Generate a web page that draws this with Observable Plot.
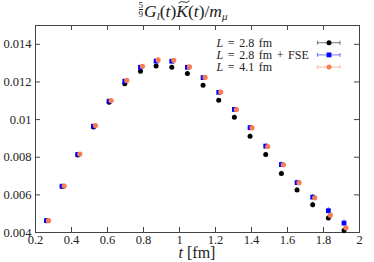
<!DOCTYPE html>
<html>
<head>
<meta charset="utf-8">
<script src="https://cdn.jsdelivr.net/npm/d3@7"></script>
<script src="https://cdn.jsdelivr.net/npm/@observablehq/plot@0.6"></script>
<style>
  body { margin: 0; background: white; width: 374px; height: 262px; overflow: hidden; }
  #title { height: 20px; width: 374px; text-align: center; font-family: "Liberation Serif", serif; font-size: 17.5px; color: #222; line-height: 23px; position: relative; left: -4px; top: 0px; white-space: nowrap; }
  .frac { display: inline-block; vertical-align: middle; font-size: 9px; line-height: 8.5px; text-align: center; margin-right: 1px; position: relative; top: -3px; }
  .frac span { display: block; }
  .frac span:first-child { border-bottom: 0.6px solid #222; }
  #title sub { font-size: 11px; vertical-align: -3px; line-height: 0; }
  .wt { position: relative; display: inline-block; }
  .wt::before { content: ""; position: absolute; left: 2px; top: 0px; width: 12px; height: 4px;
    background: no-repeat center/100% 100% url("data:image/svg+xml;utf8,<svg xmlns='http://www.w3.org/2000/svg' viewBox='0 0 12 4'><path d='M0.5 3.2 Q3 0.5 6 2 T11.5 0.8' fill='none' stroke='%23222' stroke-width='0.9'/></svg>"); }
  #chart svg { display: block; }
</style>
</head>
<body>
<div id="title"><span class="frac"><span>5</span><span>9</span></span><i>G</i><sub><i>l</i></sub>(<i>t</i>)<span class="wt"><i>K</i></span>(<i>t</i>)/<i>m</i><sub><i>μ</i></sub></div>
<div id="chart"></div>
<script>
// ---- data ----
const t = [0.261, 0.348, 0.435, 0.522, 0.609, 0.696, 0.783, 0.870, 0.957, 1.044,
           1.131, 1.218, 1.305, 1.392, 1.479, 1.566, 1.653, 1.740, 1.827, 1.914];

const seriesNames = ["L = 2.8 fm", "L = 2.8 fm + FSE", "L = 4.1 fm"];
const seriesColors = ["#000000", "#0000ff", "#f77e52"];

const valL28 = [0.00462, 0.00645, 0.00812, 0.00960, 0.01092, 0.01191, 0.01257, 0.01285, 0.01278, 0.01245,
                0.01182, 0.01103, 0.01012, 0.00912, 0.00814, 0.00713, 0.00626, 0.00547, 0.00477, 0.00410];
const errL28 = [0.00003, 0.00003, 0.00003, 0.00004, 0.00004, 0.00005, 0.00005, 0.00006, 0.00006, 0.00007,
                0.00008, 0.00009, 0.00010, 0.00011, 0.00012, 0.00013, 0.00014, 0.00015, 0.00016, 0.00016];

const valFSE = [0.00463, 0.00646, 0.00815, 0.00965, 0.01098, 0.01204, 0.01278, 0.01311, 0.01310, 0.01278,
                0.01223, 0.01145, 0.01054, 0.00957, 0.00859, 0.00761, 0.00665, 0.00588, 0.00516, 0.00450];
const errFSE = [0.00003, 0.00003, 0.00003, 0.00004, 0.00004, 0.00005, 0.00005, 0.00006, 0.00006, 0.00007,
                0.00008, 0.00009, 0.00010, 0.00011, 0.00012, 0.00013, 0.00014, 0.00015, 0.00017, 0.00018];

const valL41 = [0.00463, 0.00647, 0.00817, 0.00968, 0.01101, 0.01208, 0.01283, 0.01317, 0.01315, 0.01280,
                0.01224, 0.01146, 0.01053, 0.00956, 0.00857, 0.00760, 0.00665, 0.00584, 0.00492, 0.00425];
const errL41 = [0.00002, 0.00002, 0.00002, 0.00003, 0.00003, 0.00003, 0.00004, 0.00004, 0.00004, 0.00005,
                0.00005, 0.00006, 0.00006, 0.00007, 0.00007, 0.00008, 0.00008, 0.00009, 0.00010, 0.00010];

const xTicks = [0.2, 0.4, 0.6, 0.8, 1, 1.2, 1.4, 1.6, 1.8, 2];
const xTickLabels = ["0.2", "0.4", "0.6", "0.8", "1", "1.2", "1.4", "1.6", "1.8", "2"];
const yTicks = [0.004, 0.006, 0.008, 0.01, 0.012, 0.014];
const yTickLabels = ["0.004", "0.006", "0.008", "0.01", "0.012", "0.014"];

// ---- build ----
const mk = (vals, errs) => t.map((tt, i) => ({t: tt, v: vals[i], lo: vals[i] - errs[i], hi: vals[i] + errs[i]}));
const d28 = mk(valL28, errL28), dFSE = mk(valFSE, errFSE), d41 = mk(valL41, errL41);

const W = 374, H = 242, mL = 35, mR = 15, mT = 5, mB = 30;
const fw = W - mL - mR, fh = H - mT - mB;
const tick = 5;
const axisColor = "#444";
const serif = "Liberation Serif, serif";

const plot = Plot.plot({
  width: W, height: H,
  marginLeft: mL, marginRight: mR, marginTop: mT, marginBottom: mB,
  style: {fontFamily: serif, fontSize: "12px", color: "#222", background: "white", overflow: "visible"},
  x: {domain: [0.2, 2]},
  y: {domain: [0.004, 0.015]},
  marks: [
    Plot.frame({stroke: axisColor}),
    Plot.tickX(xTicks, {insetTop: fh - tick, stroke: axisColor}),
    Plot.tickX(xTicks, {insetBottom: fh - tick, stroke: axisColor}),
    Plot.tickY(yTicks, {insetRight: fw - tick, stroke: axisColor}),
    Plot.tickY(yTicks, {insetLeft: fw - tick, stroke: axisColor}),
    Plot.axisX(xTicks, {tickSize: 0, tickPadding: 3, label: null, fontSize: 12.5,
      tickFormat: d => xTickLabels[xTicks.indexOf(d)]}),
    Plot.axisY(yTicks, {tickSize: 0, tickPadding: 4, label: null, fontSize: 12.5,
      tickFormat: d => yTickLabels[yTicks.indexOf(d)]}),
    // L = 2.8 fm
    Plot.ruleX(d28, {x: "t", y1: "lo", y2: "hi", stroke: seriesColors[0], strokeOpacity: 0.45, strokeWidth: 1.2}),
    Plot.dot(d28, {x: "t", y: "v", r: 2.5, fill: seriesColors[0], stroke: "none"}),
    // L = 2.8 fm + FSE
    Plot.ruleX(dFSE, {x: "t", y1: "lo", y2: "hi", stroke: seriesColors[1], strokeOpacity: 0.45, strokeWidth: 1.2}),
    Plot.dot(dFSE, {x: "t", y: "v", r: 2.7, symbol: "square", fill: seriesColors[1], stroke: "none"}),
    // L = 4.1 fm
    Plot.ruleX(d41, {x: "t", y1: "lo", y2: "hi", dx: 2, stroke: seriesColors[2], strokeOpacity: 0.45, strokeWidth: 1.2}),
    Plot.dot(d41, {x: "t", y: "v", dx: 2, r: 2.6, fill: seriesColors[2], stroke: "none"})
  ]
});
document.getElementById("chart").appendChild(plot);

// ---- axis label and legend (decorations) ----
const svg = d3.select(plot);
const xl = svg.append("text")
  .attr("x", mL + fw / 2).attr("y", 238)
  .attr("text-anchor", "middle")
  .attr("font-family", serif).attr("font-size", 16).attr("fill", "#222");
xl.append("tspan").attr("font-style", "italic").text("t");
xl.append("tspan").text(" [fm]");

const legY0 = 22.7, legDy = 12.2, legTextX = 216.5, legX1 = 317.5, legX2 = 340, legMX = 329;
const lg = svg.append("g").attr("text-anchor", "start");
seriesNames.forEach((name, i) => {
  const y = legY0 + i * legDy;
  const txt = lg.append("text").attr("x", legTextX).attr("y", y).attr("dy", "0.35em")
    .attr("text-anchor", "start").attr("word-spacing", "1.6px")
    .attr("font-family", serif).attr("font-size", 12).attr("fill", "#222");
  txt.append("tspan").attr("font-style", "italic").text(name.slice(0, 1));
  txt.append("tspan").text(name.slice(1));
  const c = seriesColors[i];
  lg.append("line").attr("x1", legX1).attr("x2", legX2).attr("y1", y).attr("y2", y)
    .attr("stroke", c).attr("stroke-opacity", 0.45).attr("stroke-width", 1.2);
  [legX1, legX2].forEach(xx => lg.append("line").attr("x1", xx).attr("x2", xx)
    .attr("y1", y - 2).attr("y2", y + 2).attr("stroke", c).attr("stroke-opacity", 0.45).attr("stroke-width", 1.2));
  if (i === 1) {
    lg.append("rect").attr("x", legMX - 2.4).attr("y", y - 2.4).attr("width", 4.8).attr("height", 4.8).attr("fill", c);
  } else {
    lg.append("circle").attr("cx", legMX).attr("cy", y).attr("r", 2.5).attr("fill", c);
  }
});
</script>
</body>
</html>
